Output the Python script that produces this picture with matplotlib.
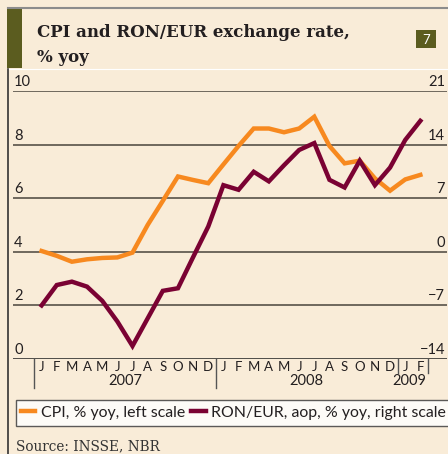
import matplotlib
matplotlib.use("Agg")
import matplotlib.pyplot as plt
from matplotlib.lines import Line2D
from matplotlib.patches import Rectangle
import matplotlib.transforms as mtransforms

# ---- data ----
months = ["J", "F", "M", "A", "M", "J", "J", "A", "S", "O", "N", "D",
          "J", "F", "M", "A", "M", "J", "J", "A", "S", "O", "N", "D",
          "J", "F"]
years = ["2007", "2008", "2009"]
cpi = [4.03, 3.85, 3.63, 3.72, 3.77, 3.79, 3.97, 5.0, 5.9, 6.81, 6.68, 6.56,
       7.26, 7.95, 8.6, 8.6, 8.46, 8.6, 9.04, 7.95, 7.3, 7.4, 6.74, 6.28,
       6.7, 6.87]
ron = [-7.0, -4.34, -3.9, -4.55, -6.4, -9.1, -12.3, -8.7, -5.1, -4.76, -0.7, 3.3,
       8.7, 8.1, 10.45, 9.2, 11.3, 13.3, 14.2, 9.4, 8.4, 11.9, 8.7, 11.0,
       14.6, 17.1]
left_ticks = [0, 2, 4, 6, 8, 10]
right_ticks = [-14, -7, 0, 7, 14, 21]
labels = ["CPI, % yoy, left scale", "RON/EUR, aop, % yoy, right scale"]

# ---- style ----
BG = "#F9ECD8"
OLIVE = "#5B5C1F"
ORANGE = "#F7891F"
MAROON = "#7A0233"
GRID = "#4A443C"
TXT = "#231F20"
W, H = 448, 454

fig = plt.figure(figsize=(W / 100, H / 100), dpi=100)
fig.patch.set_facecolor(BG)

def fx(px):
    return px / W

def fy(py):
    return 1 - py / H

# header decorations
fig.add_artist(Line2D([fx(8), fx(448)], [fy(8), fy(8)], color="#8C8C8C", lw=1.5))
fig.add_artist(Rectangle((fx(7), fy(68)), fx(15), fy(8) - fy(68), color=OLIVE, lw=0))
fig.add_artist(Line2D([fx(8), fx(448)], [fy(68.5), fy(68.5)], color="#FFFFFF", lw=0.8))
fig.add_artist(Line2D([fx(8), fx(8)], [fy(69), fy(454)], color="#333333", lw=1.2))
fig.add_artist(Rectangle((fx(416), fy(48)), fx(20), fy(30) - fy(48), color=OLIVE, lw=0))
fig.text(fx(426), fy(39.5), "7", color="white", fontsize=9.5, family="Lato",
         ha="center", va="center")

fig.text(fx(37), fy(37), "CPI and RON/EUR exchange rate,", fontsize=12,
         family="DejaVu Serif", weight="bold", color=TXT, va="baseline")
fig.text(fx(37), fy(62), "% yoy", fontsize=12,
         family="DejaVu Serif", weight="bold", color=TXT, va="baseline")

# ---- axes ----
x0 = 41.6
dx = 15.15
left_px, right_px = 13, 447
ax = fig.add_axes([fx(left_px), fy(359), fx(right_px - left_px), fy(91) - fy(359)])
ax.set_facecolor("none")
ax.set_xlim((left_px - x0) / dx, (right_px - x0) / dx)
ax.set_ylim(left_ticks[0], left_ticks[-1])
for s in ax.spines.values():
    s.set_visible(False)
ax.set_xticks([])
ax.set_yticks([])
for v in left_ticks:
    ax.axhline(v, color=GRID if v != 0 else "#222222", lw=1.1, zorder=1)

ax2 = ax.twinx()
ax2.set_ylim(right_ticks[0], right_ticks[-1])
for s in ax2.spines.values():
    s.set_visible(False)
ax2.set_xticks([])
ax2.set_yticks([])

x = list(range(len(cpi)))
ax.plot(x, cpi, color=ORANGE, lw=3.2, solid_joinstyle="miter", zorder=3)
ax2.plot(x, ron, color=MAROON, lw=3.2, solid_joinstyle="miter", zorder=3)

# tick labels
tf = dict(family="Lato", fontsize=10.5, color=TXT)
for v in left_ticks:
    ax.annotate(str(v), (0, v), xycoords=("axes fraction", "data"),
                xytext=(1, 2), textcoords="offset pixels",
                ha="left", va="bottom", **tf)
for v in right_ticks:
    lab = str(v).replace("-", "\u2212")
    ax2.annotate(lab, (1, v), xycoords=("axes fraction", "data"),
                 xytext=(-2, 2), textcoords="offset pixels",
                 ha="right", va="bottom", **tf)

# month labels / separators
trans = mtransforms.blended_transform_factory(ax.transData, ax.transAxes)
ax_h = 359 - 91
def ay(py):
    return (359 - py) / ax_h
for i, m in enumerate(months):
    ax.text(i, ay(367), m, transform=trans, ha="center", va="center",
            family="Lato", fontsize=9.5, color=TXT)
for b, bot in [(-0.5, 388), (11.5, 388), (23.5, 373), (25.5, 373)]:
    ax.plot([b, b], [0, ay(bot)], transform=trans, color="#555555", lw=1,
            clip_on=False)
for yr, c in zip(years, [5.5, 17.5, 24.3]):
    ax.text(c, ay(381), yr, transform=trans, ha="center", va="center",
            family="Lato", fontsize=10.5, color=TXT)

# legend
handles = [Line2D([], [], color=ORANGE, lw=3.2), Line2D([], [], color=MAROON, lw=3.2)]
leg = fig.legend(handles, labels, loc="center left",
                 bbox_to_anchor=(fx(15.5), fy(413)), ncol=2, frameon=True,
                 fancybox=False, handlelength=0.9, handletextpad=0.35,
                 columnspacing=0.4, borderpad=0.35, borderaxespad=0,
                 prop=dict(family="Lato", size=11.4))
leg.get_frame().set_edgecolor("#333333")
leg.get_frame().set_linewidth(1)
leg.get_frame().set_facecolor("white")
for t in leg.get_texts():
    t.set_color(TXT)

fig.text(fx(16), fy(450), "Source: INSSE, NBR", family="DejaVu Serif",
         fontsize=9.8, color="#333333", va="baseline")

fig.savefig("out.png", dpi=100, facecolor=BG)
